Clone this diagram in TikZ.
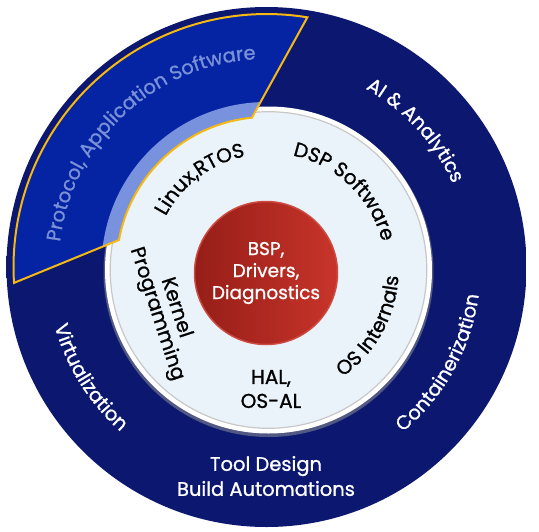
\documentclass[tikz,border=0pt]{standalone}
\usepackage{fontspec}
\setmainfont{Poppins}[FakeBold=1.0]
\usetikzlibrary{decorations.text}
\definecolor{navy}{RGB}{12,24,112}
\definecolor{navyedge}{RGB}{5,12,68}
\definecolor{wedgeblue}{RGB}{4,36,164}
\definecolor{bandblue}{RGB}{120,146,222}
\definecolor{wedgetext}{RGB}{122,145,216}
\definecolor{gold}{RGB}{246,184,18}
\definecolor{disk}{RGB}{234,243,250}
\definecolor{reddark}{RGB}{150,30,24}
\definecolor{redlight}{RGB}{200,52,42}
\definecolor{redrim}{RGB}{205,75,65}
\pgfdeclareradialshading{ringshade}{\pgfpoint{0bp}{0bp}}{color(0bp)=(navy); color(46bp)=(navy); color(50bp)=(navyedge)}
\newcommand\myringfont{\fontsize{19.5}{25}\selectfont}
\newcommand\myinnerfont{\fontsize{20}{24}\selectfont}
\newcommand\mycorefont{\fontsize{18.5}{22}\selectfont}
\begin{document}
\begin{tikzpicture}[x=1pt,y=1pt,
  curvedtext/.style={decorate, decoration={text along path, text align=center}}]
\useasboundingbox (0,-531) rectangle (539,0);
\coordinate (C) at (266.5,-267);
\coordinate (I) at (268.5,-270);
\coordinate (R) at (266,-273);
% outer ring
\shade[shading=ringshade] (C) circle[radius=260];
% inner disk
\fill[black!40, opacity=0.5] ([shift={(0,-2)}]I) circle[radius=165];
\fill[white] (I) circle[radius=163.5];
\fill[disk] (I) circle[radius=158];
\draw[black!22, line width=1.2] (I) circle[radius=158.3];
% highlighted wedge
\fill[wedgeblue] ([shift={(183.6:253)}]C) arc[start angle=183.6, end angle=80.7, radius=253]
  -- ([shift={(95.6:150)}]C) arc[start angle=95.6, end angle=169.6, radius=150] -- cycle;
\begin{scope}
\clip ([shift={(183.6:253)}]C) arc[start angle=183.6, end angle=80.7, radius=253]
  -- ([shift={(95.6:150)}]C) arc[start angle=95.6, end angle=169.6, radius=150] -- cycle;
\fill[bandblue] (C) circle[radius=165];
\end{scope}
\draw[gold, line width=2, line join=miter] ([shift={(183.6:253)}]C) arc[start angle=183.6, end angle=80.7, radius=253]
  -- ([shift={(95.6:150)}]C) arc[start angle=95.6, end angle=169.6, radius=150] -- cycle;
% core
\node[circle, minimum size=143, inner sep=0, left color=reddark, right color=redlight, draw=redrim, line width=1.5] (core) at (R) {};
\node[text=white, align=center, font=\mycorefont] (coretext) at (R) {BSP,\\Drivers,\\Diagnostics};
% outer ring texts
\path[curvedtext, decoration={text color=wedgetext, text={|\myringfont|Protocol, Application Software}}]
  ([shift={(200:208)}]C) arc[start angle=200, end angle=66, radius=208];
\path[curvedtext, decoration={text color=white, text={|\myringfont|AI {\&} Analytics}}]
  ([shift={(90:204)}]C) arc[start angle=90, end angle=-5, radius=204];
\path[curvedtext, decoration={text color=white, text={|\myringfont|Containerization}}]
  ([shift={(-74:214)}]C) arc[start angle=-74, end angle=16, radius=214];
\path[curvedtext, decoration={text color=white, text={|\myringfont|Virtualization}}]
  ([shift={(167:220)}]C) arc[start angle=167, end angle=257, radius=220];
\node[text=white, align=center, font=\myringfont] (tool) at (266,-476) {Tool Design\\Build Automations};
% inner texts
\path[curvedtext, decoration={text color=black, text={|\myinnerfont|Linux,RTOS}}]
  ([shift={(170:116)}]I) arc[start angle=170, end angle=84, radius=116];
\path[curvedtext, decoration={text color=black, text={|\myinnerfont|DSP Software}}]
  ([shift={(90:117)}]I) arc[start angle=90, end angle=2, radius=117];
\path[curvedtext, decoration={text color=black, text={|\myinnerfont|OS Internals}}]
  ([shift={(-74:130)}]I) arc[start angle=-74, end angle=16, radius=130];
\node[rotate=-72, align=center, font=\myinnerfont, inner sep=0] (kernel) at (166,-311) {Kernel\\[-4pt]Programming};
\node[align=center, font=\myinnerfont, inner sep=0] (hal) at (271,-389) {HAL,\\OS-AL};
\end{tikzpicture}
\end{document}
